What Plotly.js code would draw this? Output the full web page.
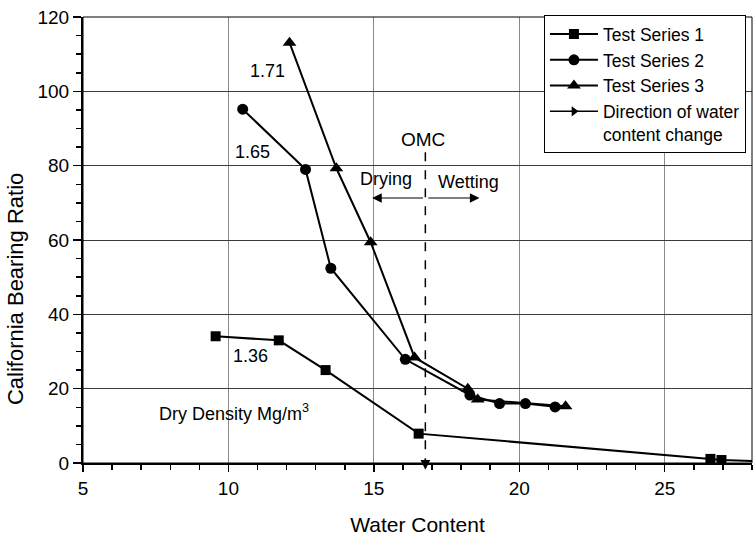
<!DOCTYPE html>
<html>
<head>
<meta charset="utf-8">
<script src="https://cdn.plot.ly/plotly-3.0.1.min.js"></script>
<style>html,body{margin:0;padding:0;background:#fff;}#chart{width:755px;height:536px;}</style>
</head>
<body>
<div id="chart"></div>
<script>
// ---- data ----
const seriesNames = ['Test Series 1', 'Test Series 2', 'Test Series 3'];
const directionLabel = 'Direction of water<br>content change';
const xTitle = 'Water Content';
const yTitle = 'California Bearing Ratio';

const ts1X = [9.56, 11.73, 13.34, 16.54, 26.57, 26.95, 29.0];
const ts1Y = [34.1, 33.0, 25.0, 7.9, 1.1, 0.8, 0.3];

const ts2X = [10.49, 12.65, 13.52, 16.08, 18.3, 19.32, 20.21, 21.23];
const ts2Y = [95.2, 79.0, 52.4, 27.9, 18.3, 16.0, 16.0, 15.1];

const ts3X = [12.10, 13.71, 14.89, 16.40, 18.23, 18.57, 21.59];
const ts3Y = [113.1, 79.3, 59.4, 28.4, 20.0, 17.1, 15.3];

const densityLabels = ['1.71', '1.65', '1.36'];
const densityX = [11.35, 10.83, 10.76];
const densityY = [105.6, 83.6, 28.8];

const omcX = 16.77;
const omcTop = 83.6;
const arrowY = 71.3;
const dryingTip = 14.94;
const wettingTip = 18.63;

const xTickVals = [5, 10, 15, 20, 25];
const yTickVals = [0, 20, 40, 60, 80, 100, 120];

// ---- styles ----
const FONT = 'Liberation Sans, Arial, sans-serif';
const line = {color: '#000', width: 2};

const traces = [
  {x: ts1X, y: ts1Y, name: seriesNames[0], mode: 'lines+markers', line: line,
   marker: {symbol: 'square', size: 10, color: '#000'}},
  {x: ts2X, y: ts2Y, name: seriesNames[1], mode: 'lines+markers', line: line,
   marker: {symbol: 'circle', size: 11, color: '#000'}},
  {x: ts3X, y: ts3Y, name: seriesNames[2], mode: 'lines+markers', line: line,
   marker: {symbol: 'triangle-up', size: 12, color: '#000'}},
  {x: [null], y: [null], name: directionLabel, mode: 'lines+markers', line: {color: '#000', width: 1.5},
   marker: {symbol: 'triangle-right', size: 9, color: '#000'}}
];

const annotations = [];
densityLabels.forEach((t, i) => annotations.push({
  x: densityX[i], y: densityY[i], xref: 'x', yref: 'y', text: t, showarrow: false,
  font: {family: FONT, size: 18, color: '#000'}
}));
annotations.push({x: 7.53, y: 13.6, xref: 'x', yref: 'y', xanchor: 'left',
  text: 'Dry Density Mg/m<sup>3</sup>', showarrow: false, font: {family: FONT, size: 18, color: '#000'}});
annotations.push({x: 16.70, y: 87.0, xref: 'x', yref: 'y', text: 'OMC', showarrow: false,
  font: {family: FONT, size: 19, color: '#000'}});
annotations.push({x: 15.43, y: 76.3, xref: 'x', yref: 'y', text: 'Drying', showarrow: false,
  font: {family: FONT, size: 18, color: '#000'}});
annotations.push({x: 18.27, y: 75.6, xref: 'x', yref: 'y', text: 'Wetting', showarrow: false,
  font: {family: FONT, size: 18, color: '#000'}});
// drying / wetting arrows
annotations.push({x: dryingTip, y: arrowY, ax: omcX - 0.03, ay: arrowY, xref: 'x', yref: 'y',
  axref: 'x', ayref: 'y', text: '', showarrow: true, arrowhead: 2, arrowsize: 1.6, arrowwidth: 1.2, arrowcolor: '#000'});
annotations.push({x: wettingTip, y: arrowY, ax: omcX + 0.05, ay: arrowY, xref: 'x', yref: 'y',
  axref: 'x', ayref: 'y', text: '', showarrow: true, arrowhead: 2, arrowsize: 1.6, arrowwidth: 1.2, arrowcolor: '#000'});
// OMC arrow head below the axis
annotations.push({x: omcX, y: -0.015, xref: 'x', yref: 'paper', ax: 0, ay: -12,
  text: '', showarrow: true, arrowhead: 2, arrowsize: 1.5, arrowwidth: 1.3, arrowcolor: '#000'});
// y axis title (sits a little below the plot centre in the reference)
annotations.push({x: -0.1016, y: 0.39, xref: 'paper', yref: 'paper', xanchor: 'center', yanchor: 'middle',
  text: yTitle, textangle: -90, showarrow: false, font: {family: FONT, size: 22, color: '#000'}});

const layout = {
  width: 755, height: 536,
  margin: {l: 83, r: 3, t: 17, b: 73},
  paper_bgcolor: '#fff', plot_bgcolor: '#fff',
  font: {family: FONT, color: '#000'},
  showlegend: true,
  legend: {
    x: 0.689, y: 1.004, xanchor: 'left', yanchor: 'top',
    bgcolor: '#fff', bordercolor: '#000', borderwidth: 1,
    font: {family: FONT, size: 17.5, color: '#000'},
    valign: 'top', itemwidth: 48, tracegroupgap: 0
  },
  xaxis: {
    range: [5, 28], tickvals: xTickVals, ticktext: xTickVals.map(String),
    ticks: 'outside', ticklen: 7, tickwidth: 1.5, tickcolor: '#000',
    showline: true, linecolor: '#000', linewidth: 2, mirror: false,
    showgrid: true, gridcolor: '#8a8a8a', gridwidth: 1, zeroline: false,
    minor: {dtick: 1, tick0: 5, ticks: 'outside', ticklen: 5, tickwidth: 1.5, tickcolor: '#000', showgrid: false},
    tickfont: {family: FONT, size: 19, color: '#000'},
    title: {text: xTitle, font: {family: FONT, size: 21, color: '#000'}, standoff: 20}
  },
  yaxis: {
    range: [0, 120], tickvals: yTickVals, ticktext: yTickVals.map(String),
    ticks: 'outside', ticklen: 8, tickwidth: 1.5, tickcolor: '#000',
    showline: true, linecolor: '#000', linewidth: 2, mirror: false,
    showgrid: true, gridcolor: '#3a3a3a', gridwidth: 1, zeroline: false,
    minor: {dtick: 5, tick0: 0, ticks: 'outside', ticklen: 5, tickwidth: 1.5, tickcolor: '#000', showgrid: false},
    tickfont: {family: FONT, size: 19, color: '#000'}
  },
  shapes: [
    {type: 'rect', xref: 'paper', yref: 'paper', x0: 0, x1: 1, y0: 0, y1: 1,
     line: {color: '#000', width: 1}, layer: 'above'},
    {type: 'line', xref: 'x', yref: 'y', x0: omcX, x1: omcX, y0: omcTop, y1: 0,
     line: {color: '#000', width: 1.5, dash: 'dash'}}
  ],
  annotations: annotations
};

Plotly.newPlot('chart', traces, layout, {staticPlot: true, displayModeBar: false});
</script>
</body>
</html>
